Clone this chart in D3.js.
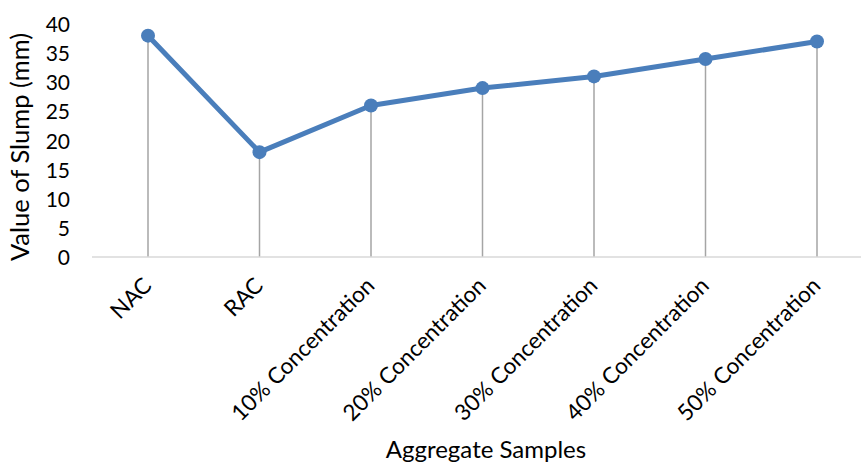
<!DOCTYPE html>
<html>
<head>
<meta charset="utf-8">
<script src="https://cdn.jsdelivr.net/npm/d3@7"></script>
<style>
  body { margin: 0; background: #fff; }
  svg { display: block; font-family: Lato, "Open Sans", sans-serif; }
</style>
</head>
<body>
<svg id="chart" width="861" height="462"></svg>
<script>
// Slump test results per aggregate sample
const categories = ["NAC", "RAC", "10% Concentration", "20% Concentration", "30% Concentration", "40% Concentration", "50% Concentration"];
const slumpValues = [38, 18, 26, 29, 31, 34, 37];
const yTicks = [0, 5, 10, 15, 20, 25, 30, 35, 40];

const svg = d3.select("#chart");

const x = d3.scaleBand().domain(categories).range([92.25, 872.75]).padding(0);
const y = d3.scaleLinear().domain([0, 40]).range([257, 24]);
const cx = d => x(d) + x.bandwidth() / 2;

// Y-axis labels (no axis line, no ticks)
const yAxis = d3.axisLeft(y).tickValues(yTicks).tickSize(0).tickPadding(0);
const gy = svg.append("g").attr("transform", "translate(70,0)").call(yAxis);
gy.select(".domain").remove();
gy.selectAll("text")
  .attr("font-family", "Lato, 'Open Sans', sans-serif")
  .attr("font-size", 21)
  .attr("fill", "#000")
  .attr("dy", "0.36em");

// Drop lines from each point to the baseline
svg.append("g").selectAll("line")
  .data(slumpValues)
  .join("line")
  .attr("x1", (d, i) => cx(categories[i]))
  .attr("x2", (d, i) => cx(categories[i]))
  .attr("y1", d => y(d))
  .attr("y2", y(0))
  .attr("stroke", "#a5a5a5")
  .attr("stroke-width", 1.5);

// Category axis baseline
svg.append("line")
  .attr("x1", 92).attr("x2", 861)
  .attr("y1", y(0)).attr("y2", y(0))
  .attr("stroke", "#d9d9d9")
  .attr("stroke-width", 1.5);

// Rotated category labels
const xAxis = d3.axisBottom(x).tickSize(0).tickPadding(0);
const gx = svg.append("g").attr("transform", `translate(0,${y(0)})`).call(xAxis);
gx.select(".domain").remove();
gx.selectAll(".tick text")
  .attr("font-family", "Lato, 'Open Sans', sans-serif")
  .attr("font-size", 22.5)
  .attr("fill", "#000")
  .attr("text-anchor", "end")
  .attr("dy", null)
  .attr("y", null)
  .attr("transform", "translate(5,30) rotate(-45)");

// Series line and markers
const line = d3.line()
  .x((d, i) => cx(categories[i]))
  .y(d => y(d));

svg.append("path")
  .datum(slumpValues)
  .attr("d", line)
  .attr("fill", "none")
  .attr("stroke", "#4a7ebb")
  .attr("stroke-width", 5)
  .attr("stroke-linejoin", "round");

svg.append("g").selectAll("circle")
  .data(slumpValues)
  .join("circle")
  .attr("cx", (d, i) => cx(categories[i]))
  .attr("cy", d => y(d))
  .attr("r", 7)
  .attr("fill", "#4a7ebb");

// Axis titles
svg.append("text")
  .attr("x", 486).attr("y", 458)
  .attr("text-anchor", "middle")
  .attr("font-size", 24)
  .attr("fill", "#000")
  .text("Aggregate Samples");

svg.append("text")
  .attr("transform", "translate(29,147) rotate(-90)")
  .attr("text-anchor", "middle")
  .attr("font-size", 25.5)
  .attr("fill", "#000")
  .text("Value of Slump (mm)");
</script>
</body>
</html>
